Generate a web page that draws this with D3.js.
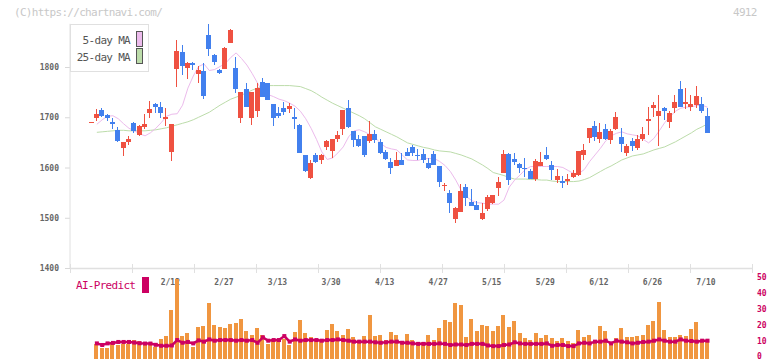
<!DOCTYPE html>
<html>
<head>
<meta charset="utf-8">
<script src="https://cdn.jsdelivr.net/npm/d3@7/dist/d3.min.js"></script>
<style>
  body { margin: 0; background: #fff; }
  svg text { font-family: "DejaVu Sans Mono", monospace; }
</style>
</head>
<body>
<div id="painting"></div>
<script>
// daily candles, oldest first
var opens = [1689,1699,1714,1705,1691,1675,1639,1651,1689,1665,
  1681,1709,1726,1720,1697,1631,1796,1830,1799,1807,
  1786,1792,1864,1823,1794,1797,1848,1799,1699,1756,
  1699,1712,1770,1768,1726,1708,1719,1717,1701,1685,
  1625,1579,1625,1614,1641,1633,1657,1677,1718,1673,
  1656,1663,1653,1667,1651,1631,1611,1602,1615,1631,
  1641,1625,1627,1609,1627,1602,1564,1549,1498,1512,
  1561,1531,1525,1498,1518,1530,1559,1590,1627,1617,
  1606,1600,1593,1577,1602,1625,1605,1575,1573,1573,
  1582,1585,1625,1659,1683,1657,1677,1655,1677,1661,
  1629,1653,1639,1657,1693,1718,1703,1719,1691,1719,
  1756,1726,1721,1724,1726,1702];
var highs = [1690,1716,1718,1706,1698,1680,1651,1663,1691,1685,
  1706,1732,1728,1730,1718,1687,1854,1844,1810,1809,
  1801,1808,1886,1826,1796,1840,1875,1820,1750,1769,
  1751,1768,1779,1768,1726,1721,1730,1728,1718,1687,
  1625,1615,1628,1627,1655,1657,1673,1714,1734,1673,
  1665,1663,1693,1675,1656,1635,1618,1631,1628,1639,
  1645,1637,1637,1619,1633,1602,1570,1555,1522,1567,
  1567,1557,1534,1529,1545,1545,1582,1635,1629,1628,
  1609,1618,1598,1616,1631,1641,1612,1598,1583,1587,
  1595,1633,1647,1679,1693,1688,1687,1677,1710,1679,
  1647,1658,1665,1681,1720,1731,1744,1721,1712,1744,
  1773,1759,1744,1762,1741,1719];
var lows = [1689,1693,1700,1693,1677,1651,1623,1645,1669,1663,
  1676,1699,1709,1699,1683,1612,1761,1784,1776,1794,
  1769,1736,1822,1803,1786,1797,1847,1749,1689,1721,
  1685,1701,1741,1734,1683,1698,1704,1708,1677,1629,
  1592,1577,1608,1607,1635,1618,1651,1665,1678,1641,
  1641,1621,1648,1648,1627,1615,1587,1602,1604,1623,
  1623,1614,1608,1597,1604,1562,1553,1509,1490,1511,
  1523,1523,1515,1496,1513,1527,1544,1590,1565,1605,
  1590,1582,1577,1573,1602,1615,1575,1569,1560,1565,
  1579,1583,1615,1649,1653,1648,1655,1647,1675,1631,
  1623,1633,1635,1653,1665,1701,1643,1695,1679,1709,
  1721,1716,1712,1718,1708,1669];
var closes = [1690,1706,1703,1699,1687,1652,1651,1657,1672,1683,
  1687,1716,1720,1709,1701,1687,1832,1801,1807,1803,
  1794,1743,1836,1809,1789,1837,1874,1756,1750,1721,
  1750,1759,1741,1734,1699,1703,1711,1722,1696,1629,
  1594,1608,1610,1625,1653,1657,1665,1714,1680,1655,
  1643,1625,1667,1655,1629,1617,1600,1615,1604,1623,
  1629,1622,1614,1600,1605,1572,1566,1530,1520,1553,
  1540,1523,1515,1509,1541,1545,1572,1627,1575,1610,
  1599,1598,1577,1613,1610,1617,1595,1583,1569,1577,
  1590,1633,1635,1679,1661,1670,1656,1673,1700,1647,
  1643,1643,1657,1667,1696,1724,1712,1713,1709,1731,
  1721,1731,1726,1742,1712,1669];

var ma5 = [null,1686,1695,1702,1703,1697,1687,1678,1673,1667,
  1663,1669,1678,1689,1702,1706,1707,1724,1758,1782,
  1801,1806,1793,1795,1801,1807,1819,1828,1817,1804,
  1787,1768,1749,1745,1741,1736,1733,1728,1722,1712,
  1697,1678,1656,1631,1616,1619,1629,1641,1661,1673,
  1675,1671,1665,1659,1648,1640,1637,1635,1625,1615,
  1614,1614,1618,1618,1618,1612,1604,1592,1575,1555,
  1542,1534,1530,1529,1527,1527,1527,1535,1561,1575,
  1585,1596,1602,1602,1602,1602,1602,1602,1600,1594,
  1588,1588,1596,1612,1625,1638,1653,1663,1668,1671,
  1667,1665,1663,1656,1649,1658,1673,1689,1701,1712,
  1718,1720,1721,1723,1724,1720];
var ma25 = [null,1670,1671,1672,1673,1674,1674,1673,1673,1673,
  1673,1674,1675,1677,1679,1682,1685,1688,1691,1695,
  1700,1705,1710,1717,1724,1730,1736,1740,1744,1749,
  1754,1758,1762,1763,1763,1763,1763,1763,1762,1761,
  1757,1753,1747,1740,1734,1728,1723,1718,1713,1708,
  1703,1697,1689,1681,1676,1671,1666,1661,1655,1649,
  1646,1643,1640,1638,1635,1633,1632,1631,1628,1625,
  1621,1617,1611,1605,1598,1590,1587,1584,1580,1577,
  1577,1577,1576,1576,1575,1575,1573,1572,1572,1572,
  1572,1573,1576,1580,1586,1592,1598,1603,1609,1615,
  1619,1623,1625,1627,1631,1635,1638,1641,1646,1651,
  1657,1663,1669,1676,1681,1687];

var volumes = [null,9.1,6.8,6.8,8.9,8.5,8.9,9.1,11.6,11.0,
  10.6,9.5,7.4,12.3,14.2,30.5,50.0,14.2,16.2,7.4,
  20.0,20.4,35.1,21.1,20.0,19.4,21.9,22.5,25.0,17.5,
  15.0,19.4,14.8,9.1,11.2,11.2,12.3,8.5,16.9,24.2,
  16.2,13.7,11.6,11.0,17.9,21.7,17.3,14.8,18.5,13.7,
  11.6,14.2,27.3,14.2,14.8,11.6,16.9,14.8,11.0,15.4,
  11.6,10.6,10.6,14.8,11.6,19.4,24.2,22.7,35.1,33.6,
  13.7,24.8,17.5,21.1,20.4,17.5,20.4,27.3,20.0,23.5,
  16.2,13.1,11.6,16.2,13.1,14.8,13.1,11.0,13.1,11.0,
  9.9,17.9,13.7,14.8,11.6,20.6,17.5,8.5,13.1,19.0,
  13.3,13.3,14.2,14.8,21.1,23.5,35.7,17.9,13.3,13.3,
  14.8,14.2,18.5,23.1,10.6,11.0];
var aiPredict = [null,9.5,8.5,9.5,9.8,10.4,10.4,10.4,10.0,9.6,
  9.4,9.4,8.6,8.0,8.0,8.2,11.6,9.9,10.4,9.5,
  11.4,10.6,12.0,11.2,11.6,11.6,11.6,11.2,11.6,11.2,
  11.6,9.9,13.3,11.2,11.6,11.6,14.1,10.6,12.0,11.2,
  11.6,11.6,11.6,11.2,11.6,11.6,12.0,11.6,11.2,10.6,
  10.6,10.6,10.6,10.2,9.9,10.2,10.6,10.6,9.9,9.9,
  9.5,9.2,9.2,9.2,9.2,9.5,9.2,8.5,8.8,8.8,
  8.5,9.2,9.2,9.2,8.2,7.8,7.8,8.5,8.8,10.2,
  9.5,9.2,9.2,9.2,9.2,9.5,8.0,8.5,8.5,7.8,
  7.8,9.5,9.9,9.5,10.6,10.6,11.2,9.5,11.2,10.6,
  10.2,9.5,9.9,10.4,10.6,11.2,12.0,11.2,10.6,10.6,
  12.0,11.2,11.0,10.6,11.2,11.2];

var priceTicks = [1400, 1500, 1600, 1700, 1800];
var volTicks = [0, 10, 20, 30, 40, 50];
var dateLabels = ["2/12","2/27","3/13","3/30","4/13","4/27","5/15","5/29","6/12","6/26","7/10"];
var dateIdx = [15, 25, 35, 45, 55, 65, 75, 85, 95, 105, 115];
var legendNames = ["5-day MA", "25-day MA"];
var legendColours = ["#ecbbec", "#bcdcaa"];

var up_col = "#ef5141", down_col = "#4280ee";
var ai_col = "#cc0062";

var w = 772, h = 361;
var svg = d3.select("#painting").append("svg")
  .attr("width", w)
  .attr("height", h);

var xScale = d3.scaleLinear().domain([0, opens.length - 1]).range([91.5, 707.5]);
var yScale = d3.scaleLinear().domain([1400, 1800]).range([268, 67]);
var vScale = d3.scaleLinear().domain([0, 50]).range([358.5, 279]);
var frameScale = d3.scaleLinear().domain([0, 11]).range([70, 752]);

// header texts
svg.append("text").attr("x", 14).attr("y", 16)
  .attr("font-size", 11).attr("letter-spacing", -0.7).attr("fill", "#c8c8c8")
  .text("(C)https://chartnavi.com/");
svg.append("text").attr("x", 733).attr("y", 16)
  .attr("font-size", 11).attr("letter-spacing", -0.7).attr("fill", "#c8c8c8")
  .text("4912");

// price axis
var yAxis = d3.axisLeft(yScale).tickValues(priceTicks).tickSize(5).tickPadding(6)
  .tickFormat(d3.format("d"));
var yg = svg.append("g").attr("transform", "translate(70,0)").call(yAxis);
yg.select(".domain").remove();
yg.selectAll("line").attr("stroke", "#d8d8d8");
yg.selectAll("text").attr("font-size", 8).attr("font-weight", "bold")
  .attr("fill", "#666").style("font-family", "DejaVu Sans Mono, monospace");

svg.append("line")
  .attr("x1", frameScale(0)).attr("x2", frameScale(0))
  .attr("y1", yScale(d3.max(highs))).attr("y2", yScale(1400))
  .attr("stroke", "#e0e0e0");

// bottom frame line and ticks
svg.append("line")
  .attr("x1", frameScale(0)).attr("x2", frameScale(11))
  .attr("y1", yScale(1400) + 0.5).attr("y2", yScale(1400) + 0.5)
  .attr("stroke", "#e0e0e0").attr("stroke-width", 1.5);
svg.append("g").selectAll("line")
  .data(d3.range(0, 12))
  .enter().append("line")
  .attr("x1", function(d) { return Math.round(frameScale(d)) + 0.5; })
  .attr("x2", function(d) { return Math.round(frameScale(d)) + 0.5; })
  .attr("y1", yScale(1400) - 4).attr("y2", yScale(1400) + 5)
  .attr("stroke", "#e0e0e0");

// date labels (behind the volume bars)
svg.append("g").selectAll("text")
  .data(dateLabels)
  .enter().append("text")
  .attr("x", function(d, i) { return xScale(dateIdx[i]) - 1.5; })
  .attr("y", 285)
  .attr("text-anchor", "middle")
  .attr("font-size", 8).attr("font-weight", "bold").attr("fill", "#666")
  .text(function(d) { return d; });

// moving averages
var maLine = d3.line()
  .defined(function(d) { return d != null; })
  .x(function(d, i) { return xScale(i); })
  .y(function(d) { return yScale(d); });
svg.append("path").attr("d", maLine(ma25))
  .attr("fill", "none").attr("stroke", legendColours[1]).attr("stroke-width", 1);
svg.append("path").attr("d", maLine(ma5))
  .attr("fill", "none").attr("stroke", legendColours[0]).attr("stroke-width", 1);

// candles
var idx = d3.range(opens.length);
var candles = svg.append("g").attr("shape-rendering", "crispEdges");
candles.selectAll("rect.wick")
  .data(idx)
  .enter().append("rect")
  .attr("class", "wick")
  .attr("x", function(i) { return Math.floor(xScale(i) - 2.5) + 2; })
  .attr("width", 1)
  .attr("y", function(i) { return yScale(highs[i]); })
  .attr("height", function(i) { return Math.max(1, yScale(lows[i]) - yScale(highs[i])); })
  .attr("fill", function(i) { return closes[i] >= opens[i] ? up_col : down_col; });
candles.selectAll("rect.body")
  .data(idx)
  .enter().append("rect")
  .attr("class", "body")
  .attr("x", function(i) { return Math.floor(xScale(i) - 2.5); })
  .attr("width", 5)
  .attr("y", function(i) { return yScale(Math.max(opens[i], closes[i])); })
  .attr("height", function(i) { return Math.max(1, Math.abs(yScale(opens[i]) - yScale(closes[i]))); })
  .attr("fill", function(i) { return closes[i] >= opens[i] ? up_col : down_col; });

// legend
svg.append("rect").attr("x", 70.5).attr("y", 24.5).attr("width", 78).attr("height", 47)
  .attr("fill", "#fff").attr("stroke", "#e0e0e0");
var leg = svg.append("g").selectAll("g")
  .data(legendNames)
  .enter().append("g")
  .attr("transform", function(d, i) { return "translate(0," + (i * 17) + ")"; });
leg.append("text")
  .attr("x", 130).attr("y", 44)
  .attr("text-anchor", "end")
  .attr("font-size", 11).attr("letter-spacing", -0.7).attr("fill", "#555")
  .text(function(d) { return d; });
leg.append("rect")
  .attr("x", 136.5).attr("y", 31.5).attr("width", 6).attr("height", 15)
  .attr("fill", function(d, i) { return legendColours[i]; })
  .attr("stroke", "#555");

// volume bars
svg.append("g").attr("shape-rendering", "crispEdges").selectAll("rect")
  .data(idx.filter(function(i) { return volumes[i] != null; }))
  .enter().append("rect")
  .attr("x", function(i) { return Math.floor(xScale(i) - 2); })
  .attr("width", 4)
  .attr("y", function(i) { return vScale(volumes[i]); })
  .attr("height", function(i) { return vScale(0) - vScale(volumes[i]); })
  .attr("fill", "#f09640");

// AI predict line
var aiLine = d3.line()
  .defined(function(d) { return d != null; })
  .x(function(d, i) { return xScale(i); })
  .y(function(d) { return vScale(d); });
svg.append("path").attr("d", aiLine(aiPredict))
  .attr("fill", "none").attr("stroke", ai_col).attr("stroke-width", 2.5);
svg.append("g").selectAll("rect")
  .data(idx.filter(function(i) { return aiPredict[i] != null; }))
  .enter().append("rect")
  .attr("x", function(i) { return xScale(i) - 2; })
  .attr("y", function(i) { return vScale(aiPredict[i]) - 2; })
  .attr("width", 4).attr("height", 4)
  .attr("fill", ai_col);

// AI-Predict label
svg.append("text").attr("x", 76).attr("y", 289)
  .attr("font-size", 11).attr("letter-spacing", -0.7).attr("fill", ai_col)
  .text("AI-Predict");
svg.append("rect").attr("x", 142).attr("y", 277).attr("width", 7).attr("height", 16)
  .attr("fill", ai_col);

// volume axis on the right
var vAxis = d3.axisRight(vScale).tickValues(volTicks).tickSize(0).tickPadding(0);
var vg = svg.append("g").attr("transform", "translate(757,0)").call(vAxis);
vg.select(".domain").remove();
vg.selectAll("text").attr("font-size", 8).attr("font-weight", "bold")
  .attr("dy", "0.05em")
  .attr("fill", ai_col).style("font-family", "DejaVu Sans Mono, monospace");
</script>
</body>
</html>
